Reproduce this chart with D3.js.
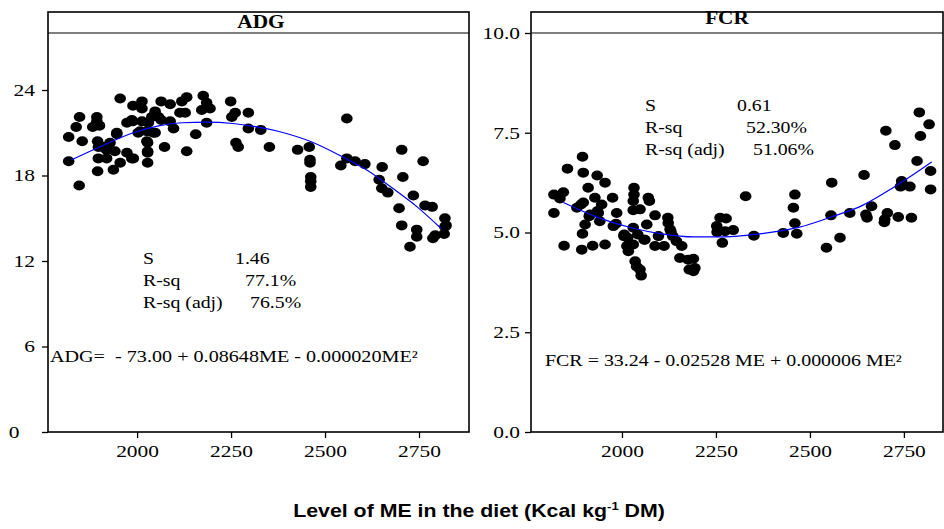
<!DOCTYPE html>
<html>
<head>
<meta charset="utf-8">
<script src="https://cdn.jsdelivr.net/npm/d3@7"></script>
<style>
  body { margin: 0; background: #fff; }
</style>
</head>
<body>
<div id="chart"></div>
<script>
// ADG panel: observed points (ME, ADG)
const adgME = [1818,1838,1847,1854,1818,1846,1882,1900,1893,1893,1895,1897,1910,1924,1895,1937,1955,1946,1955,1973,
  1986,1989,1973,1986,2013,2013,2003,2026,2048,2028,2028,2028,2073,2064,2088,2097,2132,2132,2156,2176,
  2185,2194,2185,2249,2252,2261,2296,2263,2269,2296,2329,2352,2427,2458,2460,2460,2462,2462,2462,2558,
  2542,2558,2580,2606,2652,2644,2651,2667,2704,2707,2735,2761,2697,2766,2785,2819,2819,2119,2114,2128,
  2172,2048,2039,2057,2064,2088,2030,2008,2043,1988,2013,1915,1928,1919,1941,1990,1897,1919,1946,2026,
  2028,2704,2744,2744,2726,2793,2787,2817,2822];
const adgVal = [20.7,21.4,22.1,20.4,19.0,17.3,21.4,21.5,22.1,21.8,20.4,20.0,20.0,20.1,18.3,18.4,23.4,20.9,18.9,19.6,
  19.2,22.9,21.7,21.9,23.2,22.7,21.0,21.1,21.0,20.3,19.6,18.9,20.0,23.2,23.0,21.3,23.5,19.7,20.9,23.6,
  23.1,22.7,21.7,23.2,22.1,22.4,22.4,20.3,20.0,21.3,21.2,20.0,19.8,20.0,19.1,18.9,17.9,17.6,17.2,22.0,
  18.7,19.2,19.0,18.8,18.6,17.7,17.1,16.8,19.8,17.9,16.6,19.0,15.7,15.9,15.8,15.0,14.4,23.2,22.4,22.4,
  22.6,22.5,22.1,22.1,21.9,21.8,21.7,21.1,21.0,21.8,21.8,19.9,20.3,19.8,19.7,19.2,19.2,19.2,21.0,20.4,
  19.7,14.5,14.2,13.7,13.0,13.8,13.6,13.9,14.5];

// ADG fitted line
const adgFitME = [1826,1900,1990,2060,2120,2185,2255,2310,2390,2460,2540,2610,2680,2745,2808];
const adgFitVal = [19.1,20.0,21.0,21.5,21.7,21.75,21.65,21.45,21.0,20.4,19.4,18.4,17.1,15.8,14.3];

// FCR panel: observed points (ME, FCR)
const fcrME = [1819,1844,1835,1855,1819,1895,1897,1934,1955,1910,1928,1946,1897,1880,1975,1986,1915,1937,1941,1902,
  1977,2032,2032,2030,2070,2073,2030,2048,2088,2030,2066,2329,1891,1935,1913,1984,1895,1846,1893,1922,
  1955,2005,2013,2017,2030,2035,2039,2048,2051,2061,2088,2097,2112,2123,2128,2135,2145,2159,2154,2176,
  2190,2179,2190,2194,2253,2252,2267,2274,2296,2351,2429,2465,2460,2544,2580,2698,2006,2015,2042,2059,
  2122,2130,2261,2277,2460,2456,2558,2556,2606,2644,2649,2664,2652,2702,2726,2706,2699,2735,2744,2741,
  2766,2770,2791,2794,2785,2817,2821,2821];
const fcrVal = [5.95,6.01,5.85,6.60,5.49,6.90,6.50,6.43,6.25,6.12,5.87,5.70,5.75,5.62,5.87,5.49,5.45,5.49,5.28,5.20,
  5.16,6.12,5.95,5.79,5.87,5.79,5.56,5.58,5.43,5.12,5.20,5.91,5.70,5.54,5.41,5.22,4.97,4.67,4.57,4.67,
  4.70,4.91,4.66,4.53,4.70,4.28,4.15,4.07,3.92,4.82,4.66,4.91,4.66,5.24,5.08,4.91,4.78,4.66,4.36,4.32,
  4.34,4.07,4.03,4.11,5.01,5.16,4.74,5.03,5.06,4.92,4.99,4.97,5.23,4.62,4.87,5.26,4.95,4.87,4.95,4.82,
  5.37,5.03,5.37,5.35,5.95,5.62,6.25,5.43,5.49,6.44,5.45,5.66,5.37,7.55,7.19,5.49,5.33,5.39,6.29,6.15,
  6.15,5.37,8.01,7.42,6.79,7.71,6.54,6.08];

// FCR fitted line
const fcrFitME = [1844,1935,2025,2110,2190,2260,2330,2400,2470,2560,2640,2700,2760,2824];
const fcrFitVal = [5.75,5.38,5.12,4.96,4.89,4.89,4.93,5.01,5.13,5.40,5.68,6.00,6.36,6.77];

const xTicks = [2000, 2250, 2500, 2750];
const adgTicks = [0, 6, 12, 18, 24];
const fcrTicks = [0, 2.5, 5, 7.5, 10];

const SERIF = '"Liberation Serif", "Times New Roman", serif';
const SANS = '"Liberation Sans", Arial, sans-serif';

const width = 944, height = 529;
const svg = d3.select("#chart").append("svg")
    .attr("width", width)
    .attr("height", height);

// the original picture is stretched sideways, so the text is too
function stretch(sel, f) {
    sel.each(function () {
        const t = d3.select(this);
        const ax = +t.attr("x") || 0;
        t.attr("transform", `translate(${ax},0) scale(${f},1) translate(${-ax},0)`);
    });
}
function fitWidth(sel, w) {
    stretch(sel, w / sel.node().getBBox().width);
}

function drawPanel(cfg) {
    const x = d3.scaleLinear().domain(cfg.xDomain).range([cfg.left, cfg.right]);
    const y = d3.scaleLinear().domain(cfg.yDomain).range([432, 33]);
    const g = svg.append("g");

    // points
    g.selectAll("ellipse")
        .data(cfg.me.map((d, i) => [d, cfg.val[i]]))
        .enter().append("ellipse")
        .attr("cx", d => x(d[0]))
        .attr("cy", d => y(d[1]))
        .attr("rx", 5.8)
        .attr("ry", 5)
        .attr("fill", "#000");

    // fitted line
    const line = d3.line()
        .x(d => x(d[0]))
        .y(d => y(d[1]))
        .curve(d3.curveMonotoneX);
    g.append("path")
        .datum(cfg.fitMe.map((d, i) => [d, cfg.fitVal[i]]))
        .attr("d", line)
        .attr("fill", "none")
        .attr("stroke", "#0000ff")
        .attr("stroke-width", 1.2);

    // frame and strip
    g.append("rect")
        .attr("x", cfg.left).attr("y", 12)
        .attr("width", cfg.right - cfg.left).attr("height", 420)
        .attr("fill", "none").attr("stroke", "#000").attr("stroke-width", 1.6);
    g.append("line")
        .attr("x1", cfg.left).attr("x2", cfg.right)
        .attr("y1", 33).attr("y2", 33)
        .attr("stroke", "#000").attr("stroke-width", 1.2);
    const title = g.append("text")
        .attr("x", cfg.titleX)
        .attr("y", cfg.titleY)
        .attr("text-anchor", "middle")
        .style("font-family", SERIF)
        .style("font-size", "19px")
        .style("font-weight", "bold")
        .text(cfg.title);
    stretch(title, 1.12);

    // axes
    const xAxis = g.append("g")
        .attr("transform", "translate(0,432)")
        .call(d3.axisBottom(x).tickValues(xTicks).tickSize(6).tickPadding(7).tickFormat(d3.format("d")));
    const yAxis = g.append("g")
        .attr("transform", `translate(${cfg.left},0)`)
        .call(d3.axisLeft(y).tickValues(cfg.yTicks).tickSize(6).tickPadding(cfg.yPad).tickFormat(cfg.yFormat));
    [xAxis, yAxis].forEach(a => {
        a.select(".domain").remove();
        a.selectAll("line").attr("stroke", "#000").attr("stroke-width", 1.3);
        a.selectAll("text")
            .attr("fill", "#000")
            .style("font-family", SERIF)
            .style("font-size", "16.5px");
        stretch(a.selectAll("text"), 1.3);
    });
    if (cfg.zeroShift) {
        yAxis.selectAll(".tick").filter(d => d === 0).select("text").attr("dx", cfg.zeroShift);
    }

    // stats block
    cfg.stats.forEach((s, i) => {
        [[cfg.statX, s[0]], [s[2], s[1]]].forEach(p => {
            const t = g.append("text")
                .attr("x", p[0]).attr("y", cfg.statY + i * 22)
                .style("font-family", SERIF)
                .style("font-size", "16.5px")
                .text(p[1]);
            stretch(t, 1.2);
        });
    });
    const eq = g.append("text")
        .attr("x", cfg.eqX).attr("y", cfg.eqY)
        .style("font-family", SERIF)
        .style("font-size", "16.5px")
        .style("white-space", "pre")
        .text(cfg.eq);
    fitWidth(eq, cfg.eqW);
}

drawPanel({
    left: 48, right: 469, xDomain: [1763, 2883], yDomain: [0, 28],
    me: adgME, val: adgVal, fitMe: adgFitME, fitVal: adgFitVal,
    title: "ADG", titleX: 261, titleY: 28, yTicks: adgTicks, yFormat: d3.format("d"),
    yPad: 7, zeroShift: -12,
    statX: 143, statY: 264,
    stats: [["S", "1.46", 235], ["R-sq", "77.1%", 245], ["R-sq (adj)", "76.5%", 250]],
    eqX: 50, eqY: 362, eqW: 368, eq: "ADG=  - 73.00 + 0.08648ME - 0.000020ME\u00b2"
});

drawPanel({
    left: 531, right: 943, xDomain: [1758, 2854], yDomain: [0, 10],
    me: fcrME, val: fcrVal, fitMe: fcrFitME, fitVal: fcrFitVal,
    title: "FCR", titleX: 727, titleY: 24, yTicks: fcrTicks, yFormat: d3.format(".1f"),
    yPad: 5,
    statX: 645, statY: 111,
    stats: [["S", "0.61", 737], ["R-sq", "52.30%", 746], ["R-sq (adj)", "51.06%", 753]],
    eqX: 545, eqY: 366, eqW: 357, eq: "FCR = 33.24 - 0.02528 ME + 0.000006 ME\u00b2"
});

// shared x axis title
const xt = svg.append("text")
    .attr("x", 479)
    .attr("y", 517)
    .attr("text-anchor", "middle")
    .style("font-family", SANS)
    .style("font-size", "18px")
    .style("font-weight", "bold");
xt.append("tspan").text("Level of ME in the diet (Kcal kg");
xt.append("tspan").attr("dy", -7).style("font-size", "11px").text("-1");
xt.append("tspan").attr("dy", 7).text(" DM)");
fitWidth(xt, 372);
</script>
</body>
</html>
